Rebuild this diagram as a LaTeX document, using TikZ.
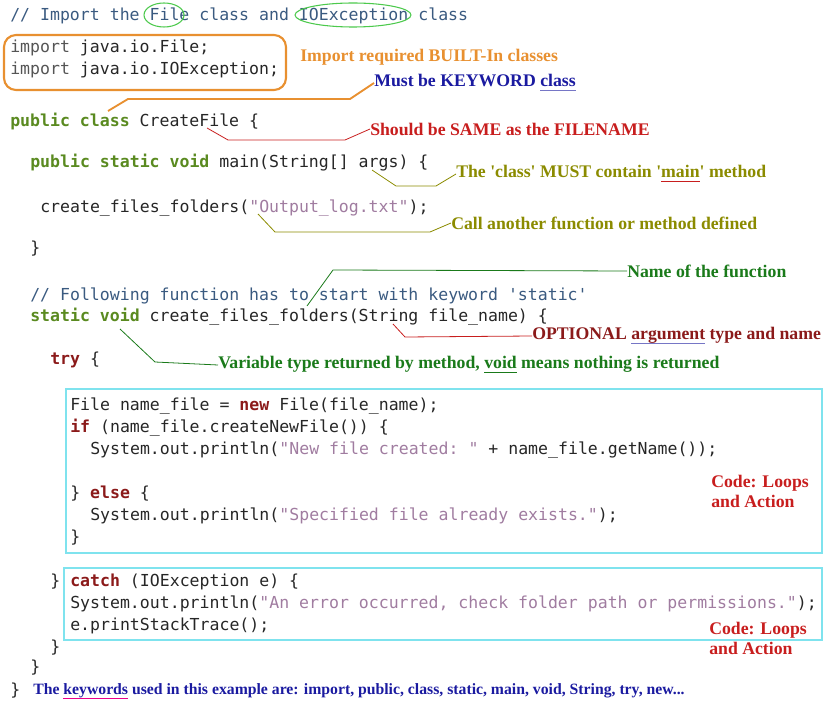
\documentclass[tikz,border=0pt]{standalone}
\usepackage{fontspec}
\setmainfont{Liberation Serif}
\setmonofont{DejaVu Sans Mono}
\definecolor{cmtblue}{HTML}{3A5A80}
\definecolor{kwgreen}{HTML}{5A8A20}
\definecolor{kwred}{HTML}{8B1A1A}
\definecolor{strpurple}{HTML}{A07CA0}
\definecolor{impgrey}{HTML}{555555}
\definecolor{noteorange}{HTML}{E89030}
\definecolor{noteblue}{HTML}{1A1AA0}
\definecolor{notered}{HTML}{C81E1E}
\definecolor{noteolive}{HTML}{8B8B00}
\definecolor{notegreen}{HTML}{1A7A1A}
\definecolor{boxcyan}{HTML}{7FE3EE}
\newcommand{\kwg}[1]{\textcolor{kwgreen}{\bfseries #1}}
\newcommand{\kwr}[1]{\textcolor{kwred}{\bfseries #1}}
\newcommand{\strp}[1]{\textcolor{strpurple}{#1}}
\newcommand{\ul}[2]{\setbox0\hbox{#2}\rlap{\textcolor{#1}{\rule[-3.5pt]{\wd0}{0.9pt}}}\box0\relax}
\newcommand{\sq}{\textquotesingle}
\begin{document}
\begin{tikzpicture}[x=0.75pt,y=-0.75pt,
        code/.style = {anchor=west,inner sep=0pt,font=\ttfamily\fontsize{12.4}{14}\selectfont,text=black!85},
        cmt/.style = {code,text=cmtblue},
        note/.style = {anchor=west,inner sep=0pt,font=\bfseries\fontsize{13.3}{15}\selectfont},
        lead/.style = {line width=0.6pt},
        codebox/.style = {draw=boxcyan,line width=1.4pt}
        ]
        \useasboundingbox (0,0) rectangle (827,723);
        % code lines
        \node[cmt] (c1) at (10,16) {// Import the File class and IOException class};
        \node[code] (i1) at (10,48) {\textcolor{impgrey}{import} java.io.File;};
        \node[code] (i2) at (10,70) {\textcolor{impgrey}{import} java.io.IOException;};
        \node[code] (cls) at (10,122) {\kwg{public class} CreateFile \{};
        \node[code] (mn) at (30,163) {\kwg{public static void} main(String[] args) \{};
        \node[code] (call) at (40,208) {create\_files\_folders(\strp{"Output\_log.txt"});};
        \node[code] (b1) at (30,249) {\}};
        \node[cmt] (c2) at (30,296) {// Following function has to start with keyword 'static'};
        \node[code] (fn) at (30,317) {\kwg{static void} create\_files\_folders(String file\_name) \{};
        \node[code] (try) at (50,360) {\kwr{try} \{};
        \node[code] (l1) at (70,406) {File name\_file = \kwr{new} File(file\_name);};
        \node[code] (l2) at (70,428) {\kwr{if} (name\_file.createNewFile()) \{};
        \node[code] (l3) at (90,450) {System.out.println(\strp{"New file created: "} + name\_file.getName());};
        \node[code] (l4) at (70,494) {\} \kwr{else} \{};
        \node[code] (l5) at (90,516) {System.out.println(\strp{"Specified file already exists."});};
        \node[code] (l6) at (70,538) {\}};
        \node[code] (b2) at (50,582) {\}};
        \node[code] (ca) at (70,582) {\kwr{catch} (IOException e) \{};
        \node[code] (l7) at (70,604) {System.out.println(\strp{"An error occurred, check folder path or permissions."});};
        \node[code] (l8) at (70,626) {e.printStackTrace();};
        \node[code] (b3) at (50,648) {\}};
        \node[code] (b4) at (30,668) {\}};
        \node[code] (b5) at (10,691) {\}};
        % highlights
        \draw[green!70!black!70,line width=0.8pt] (164,15) ellipse (20 and 12);
        \draw[green!70!black!70,line width=0.8pt] (353,15) ellipse (58 and 12);
        \draw[noteorange,line width=1.6pt,rounded corners=9pt] (4,35) rectangle (286,90);
        \draw[codebox] (66,389) rectangle (822,553);
        \draw[codebox] (64,568) rectangle (822,640);
        % notes
        \node[note,text=noteorange] (nimp) at (300,57) {Import required BUILT-In classes};
        \node[note,text=noteblue] (nkw) at (374,83) {Must be KEYWORD \ul{noteblue!60}{class}};
        \node[note,text=notered] (nsame) at (370,129) {Should be SAME as the FILENAME};
        \node[note,text=noteolive] (nmain) at (456,174) {The \sq class\sq{} MUST contain \sq\ul{notered}{main}\sq{} method};
        \node[note,text=noteolive] (ncall) at (451,223) {Call another function or method defined};
        \node[note,text=notegreen] (nname) at (627,271) {Name of the function};
        \node[note,text=kwred] (narg) at (532,336) {OPTIONAL \ul{noteblue!60}{argument} type and name};
        \node[note,text=notegreen] (nvoid) at (218,365) {Variable type returned by method, \ul{notegreen}{void} means nothing is returned};
        \node[note,text=notered,align=left,anchor=north west] (nloop1) at (711,475) {Code: Loops\\and Action};
        \node[note,text=notered,align=left,anchor=north west] (nloop2) at (709,622) {Code: Loops\\and Action};
        \node[note,text=noteblue,font=\bfseries\fontsize{11.8}{14}\selectfont] (nfoot) at (33,691) {The \ul{magenta}{keywords} used in this example are: import, public, class, static, main, void, String, try, new...};
        % leader lines
        \coordinate (pcls) at (108,111);
        \draw[lead,noteorange,line width=1.4pt] (pcls) -- (128,99) -- (350,99) -- (nkw.west);
        \coordinate (pcf) at (207,128);
        \draw[lead,notered] (pcf) -- (228,140) -- (345,140) -- (nsame.west);
        \coordinate (pmn) at (372,170);
        \draw[lead,noteolive] (pmn) -- (396,186) -- (436,186) -- (nmain.west);
        \coordinate (pcall) at (258,214);
        \draw[lead,noteolive] (pcall) -- (275,232) -- (430,232) -- (ncall.west);
        \coordinate (pfn) at (307,306);
        \draw[lead,notegreen] (pfn) -- (333,270) -- (nname.west);
        \coordinate (parg) at (393,324);
        \draw[lead,notered] (parg) -- (405,337) -- (narg.west);
        \coordinate (pvoid) at (120,329);
        \draw[lead,notegreen] (pvoid) -- (155,362) -- (nvoid.west);
\end{tikzpicture}
\end{document}
